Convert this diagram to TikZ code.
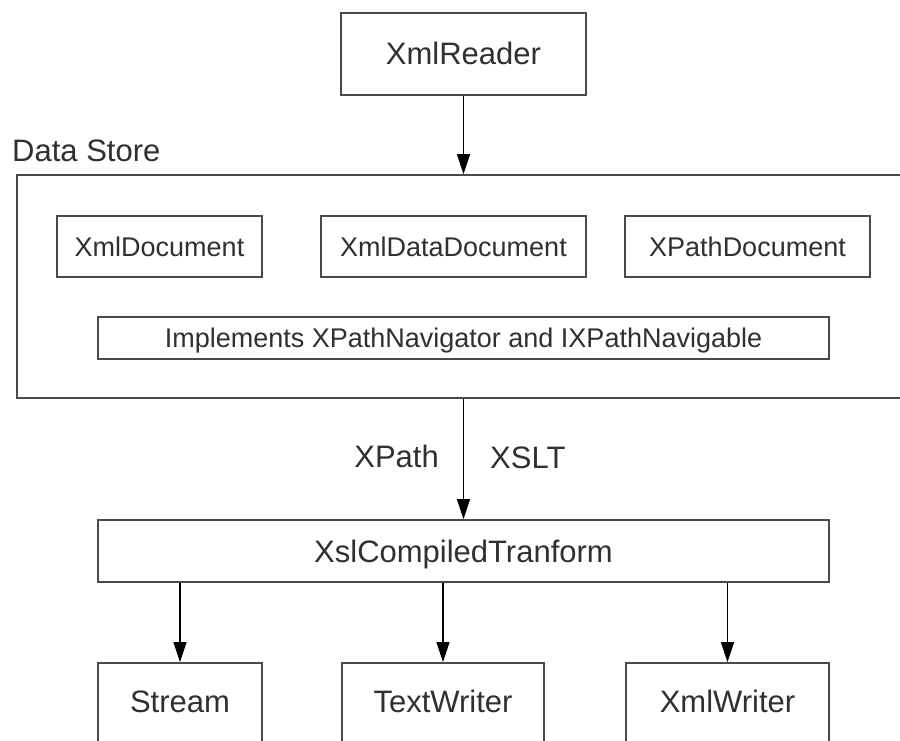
\documentclass[tikz,border=0pt]{standalone}
\usepackage{fontspec}
\setmainfont{Liberation Sans}
\usetikzlibrary{arrows.meta}
\definecolor{txt}{HTML}{303030}
\definecolor{edge}{HTML}{4A4A4A}
\tikzset{
  boxbig/.style={draw=edge, line width=1.8pt, inner sep=0pt, text=txt,
    font=\fontsize{31}{37}\selectfont, text height=22pt, text depth=0pt},
  boxsmall/.style={draw=edge, line width=1.8pt, inner sep=0pt, text=txt,
    font=\fontsize{27}{32}\selectfont, text height=19pt, text depth=0pt},
  plainlabel/.style={inner sep=0pt, text=txt, font=\fontsize{31}{37}\selectfont},
  arr/.style={draw=black, line width=1.4pt, -{Triangle[width=13pt,length=20pt]}}
}
\begin{document}
\begin{tikzpicture}[x=1pt,y=-1pt]
\clip (0,0) rectangle (900,741);
\fill[white] (0,0) rectangle (900,741);
% top
\node[boxbig, minimum width=245pt, minimum height=82pt] (reader) at (463.5,54) {XmlReader};
\node[plainlabel, anchor=base west] (dslabel) at (12,162) {Data Store};
\node[draw=edge, line width=1.8pt, minimum width=892pt, minimum height=223pt, inner sep=0pt] (store) at (463,286.5) {};
\node[boxsmall, minimum width=205pt, minimum height=61pt] (xmldoc) at (159.5,246.5) {XmlDocument};
\node[boxsmall, minimum width=265pt, minimum height=61pt] (xmldatadoc) at (453.5,246.5) {XmlDataDocument};
\node[boxsmall, minimum width=245pt, minimum height=61pt] (xpathdoc) at (747.5,246.5) {XPathDocument};
\node[boxsmall, minimum width=731pt, minimum height=42pt] (impl) at (463.5,338) {Implements XPathNavigator and IXPathNavigable};
% middle
\node[boxbig, minimum width=731pt, minimum height=62pt] (xsl) at (463.5,551) {XslCompiledTranform};
\node[plainlabel, anchor=base east] (xpathlbl) at (439,467) {XPath};
\node[plainlabel, anchor=base west] (xsltlbl) at (490,468) {XSLT};
% bottom
\node[boxbig, minimum width=164pt, minimum height=85pt, text depth=9pt] (stream) at (180,705.5) {Stream};
\node[boxbig, minimum width=202pt, minimum height=85pt, text depth=9pt] (textw) at (443,705.5) {TextWriter};
\node[boxbig, minimum width=203pt, minimum height=85pt, text depth=9pt] (xmlw) at (727.5,705.5) {XmlWriter};
% connectors
\draw[arr] (reader.south) -- (reader.south |- store.north);
\draw[arr] (xsl.north |- store.south) -- (xsl.north);
\draw[arr] (stream.north |- xsl.south) -- (stream.north);
\draw[arr] (textw.north |- xsl.south) -- (textw.north);
\draw[arr] (xmlw.north |- xsl.south) -- (xmlw.north);
\end{tikzpicture}
\end{document}
